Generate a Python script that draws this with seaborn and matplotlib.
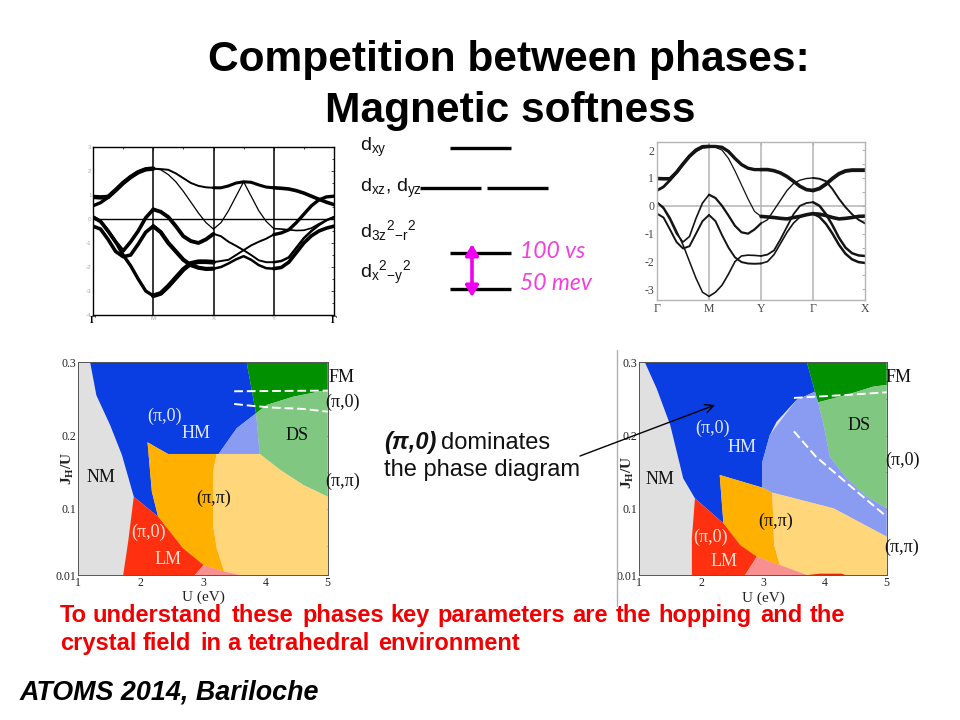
import matplotlib
matplotlib.use("Agg")
import matplotlib.pyplot as plt
import numpy as np
import pandas as pd
import seaborn as sns

sns.set_theme(style="white")
plt.rcParams["font.family"] = ["Liberation Sans", "DejaVu Sans"]
plt.rcParams["axes.unicode_minus"] = False
plt.rcParams["mathtext.default"] = "regular"
plt.rcParams["mathtext.fontset"] = "custom"
plt.rcParams["mathtext.rm"] = "Liberation Sans"
plt.rcParams["mathtext.it"] = "Liberation Sans:italic"
plt.rcParams["mathtext.bf"] = "Liberation Sans:bold"

# ---- band structure, left panel (path G-M-X-Y-G, 8 steps per segment)
B1_A = [.92,.9,.92,1.2,1.5,1.75,1.95,2.07,2.1, 2.08,2.05,1.9,1.7,1.5,1.38,1.32,1.3, 1.3,1.38,1.5,1.55,1.53,1.42,1.33,1.3, 1.28,1.25,1.18,1.08,.95,.82,.7,.6]
B2_A = [.55,.68,.9,1.2,1.5,1.75,1.95,2.07,2.1, 2.05,1.85,1.55,1.15,.7,.25,-.15,-.42, -.15,.35,.95,1.55,.95,.35,-.1,-.4, -.42,-.45,-.48,-.47,-.38,-.2,-.05,.08]
B3_A = [.08,-.1,-.5,-.95,-1.33,-.95,-.5,.05,.4, .3,.08,-.3,-.72,-.92,-1.0,-.85,-.62, -.72,-.95,-1.12,-1.3,-1.1,-.95,-.82,-.65, -.58,-.45,-.15,.2,.55,.8,.92,.95]
B4_A = [-.3,-.42,-.85,-1.35,-1.57,-1.5,-1.05,-.55,-.3, -.55,-1.0,-1.35,-1.7,-1.92,-2.03,-2.08,-2.07, -2.0,-1.85,-1.68,-1.55,-1.7,-1.92,-2.05,-2.07, -2.02,-1.8,-1.4,-1.0,-.7,-.5,-.38,-.3]
B5_A = [.08,-.1,-.5,-.95,-1.5,-1.95,-2.5,-3.0,-3.2, -3.1,-2.8,-2.45,-2.1,-1.85,-1.78,-1.78,-1.8, -1.75,-1.7,-1.5,-1.3,-1.5,-1.72,-1.8,-1.8, -1.75,-1.6,-1.2,-.8,-.5,-.25,-.05,.08]
BANDS_A = [B1_A, B2_A, B3_A, B4_A, B5_A]
WIDTHS_A = [[3.2,1.4,2.2,2.6],[2.4,.9,.9,1.2],[2.6,2.8,1.4,2.4],[2.6,3.0,1.8,2.6],[2.4,3.4,1.4,1.8]]
TICKS_A = ["Γ", "M", "X", "Y", "Γ"]

# ---- band structure, right panel (path G-M-Y-G-X)
B1_B = [.98,.97,.97,1.2,1.5,1.78,2.0,2.12,2.13, 2.13,2.1,1.95,1.7,1.48,1.35,1.3,1.3, 1.3,1.26,1.18,1.05,.88,.7,.58,.55, .62,.78,.98,1.15,1.25,1.28,1.28,1.28]
B2_B = [.55,.68,.92,1.2,1.5,1.78,1.97,2.1,2.13, 2.1,2.0,1.7,1.25,.75,.25,-.2,-.38, -.4,-.42,-.45,-.47,-.42,-.38,-.32,-.28, -.3,-.35,-.42,-.47,-.45,-.42,-.38,-.37]
B3_B = [.13,-.1,-.5,-1.0,-1.3,-1.1,-.45,.1,.4, .28,.0,-.35,-.72,-.95,-1.0,-.85,-.63, -.5,-.15,.2,.55,.8,.92,.98,1.0, .97,.88,.6,.25,-.05,-.3,-.5,-.63]
B4_B = [-.28,-.42,-.85,-1.3,-1.53,-1.45,-1.0,-.55,-.33, -.55,-1.05,-1.5,-1.85,-2.02,-2.07,-2.08,-2.07, -2.0,-1.75,-1.35,-.95,-.62,-.4,-.3,-.28, -.4,-.65,-1.0,-1.4,-1.72,-1.92,-2.02,-2.05]
B5_B = [.13,-.05,-.42,-.9,-1.4,-2.0,-2.6,-3.1,-3.25, -3.1,-2.85,-2.45,-2.0,-1.8,-1.77,-1.78,-1.8, -1.75,-1.6,-1.2,-.75,-.3,.0,.1,.13, .0,-.3,-.7,-1.15,-1.5,-1.7,-1.78,-1.8]
BANDS_B = [B1_B, B2_B, B3_B, B4_B, B5_B]
WIDTHS_B = [[2.6,2.4,2.6,2.8],[2.0,.9,2.6,2.6],[1.2,1.6,1.0,1.4],[1.4,1.4,1.2,1.8],[1.1,1.2,1.3,1.8]]
TICKS_B = ["Γ", "M", "Y", "Γ", "X"]

# ---- phase diagrams: regions as (U, J/U) vertices
COLORS = dict(nm="#e0e0e0", hm="#0a3de2", fm="#009000", ds="#80c882", lb="#8a9cf2",
              or_="#ffb000", ye="#ffd67a", re="#ff3010", pk="#f89090", dr="#e02a08")
PHASE_LEFT = {
    "hm": [(1.19,.30),(3.70,.30),(3.85,.2305),(3.54,.21),(3.25,.175),(2.44,.175),(2.26,.1836),(2.11,.191),(2.18,.1236),(2.28,.0895),(1.89,.1168),(1.70,.1736),(1.51,.2145),(1.29,.255)],
    "fm": [(3.70,.30),(5,.30),(5,.2623),(4.45,.2532),(4.02,.2418),(3.85,.2305)],
    "ds": [(3.85,.2305),(4.02,.2418),(4.45,.2532),(5,.2623),(5,.1168),(4.61,.1327),(4.24,.1532),(3.91,.175)],
    "lb": [(3.25,.175),(3.54,.21),(3.85,.2305),(3.91,.175)],
    "or_": [(2.11,.191),(2.26,.1836),(2.44,.175),(3.22,.175),(3.16,.151),(3.16,.0782),(3.22,.0464),(3.34,.0145),(3.01,.0236),(2.68,.0464),(2.28,.0895),(2.18,.1236)],
    "ye": [(3.22,.175),(3.91,.175),(4.24,.1532),(4.61,.1327),(5,.1168),(5,.01),(3.59,.01),(3.34,.0145),(3.22,.0464),(3.16,.0782),(3.16,.151)],
    "re": [(1.89,.1168),(2.28,.0895),(2.68,.0464),(3.01,.0236),(2.87,.01),(1.72,.01),(1.80,.0555)],
    "pk": [(3.01,.0236),(3.34,.0145),(3.59,.01),(2.87,.01)],
}
PHASE_RIGHT = {
    "hm": [(1.09,.30),(3.71,.30),(3.84,.26),(3.54,.2486),(3.22,.2191),(3.11,.2009),(2.99,.1645),(2.99,.1291),(2.30,.1464),(2.36,.0805),(1.90,.1145),(1.71,.1418),(1.50,.2145),(1.28,.2645)],
    "fm": [(3.71,.30),(5,.30),(5,.2691),(4.78,.2668),(4.35,.2555),(3.89,.2455),(3.84,.26)],
    "ds": [(3.89,.2455),(4.35,.2555),(4.78,.2668),(5,.2691),(5,.1009),(4.68,.1168),(4.35,.1418),(4.08,.1714),(3.98,.2145)],
    "lb": [(3.54,.2486),(3.84,.26),(3.89,.2455),(3.98,.2145),(4.08,.1714),(4.35,.1418),(4.68,.1168),(5,.1009),(5,.0623),(4.14,.1009),(3.15,.1223),(2.99,.1291),(2.99,.1645),(3.11,.2009)],
    "or_": [(2.30,.1464),(2.99,.1291),(3.15,.1223),(3.18,.0509),(3.27,.0236),(2.90,.035),(2.63,.0509),(2.36,.0805)],
    "ye": [(3.15,.1223),(4.14,.1009),(5,.0623),(5,.01),(3.71,.01),(3.27,.0236),(3.18,.0509)],
    "re": [(1.90,.1145),(2.36,.0805),(2.63,.0509),(2.90,.035),(2.71,.01),(1.85,.01),(1.85,.06)],
    "pk": [(2.90,.035),(3.27,.0236),(3.71,.01),(2.71,.01)],
    "dr": [(3.73,.01),(3.92,.0118),(4.27,.0118),(4.33,.01)],
}
DASH_LEFT = [[(3.5,.2605),(5,.2614)], [(3.5,.2432),(3.8,.2405),(4.13,.2382),(4.61,.2364),(5,.2327)]]
DASH_RIGHT = [[(3.5,.2514),(4.35,.2555),(5,.2591)], [(3.5,.2059),(3.85,.1718),(4.45,.1286),(5,.0895)]]
J_TICKS = [.01, .1, .2, .3]
J_LABELS = ["0.01", "0.1", "0.2", "0.3"]
U_TICKS = [1, 2, 3, 4, 5]

# ---- text on the slide
TITLE_LINES = ["Competition between phases:", "Magnetic softness"]
RED_LINES = ["To understand these phases key parameters are the hopping and the",
             "crystal field in a tetrahedral environment"]
FOOTER = "ATOMS 2014, Bariloche"

fig = plt.figure(figsize=(9.6, 7.2), dpi=100, facecolor="white")
W, H = 960.0, 720.0

def axes_px(x0, y0, x1, y1, **kw):
    return fig.add_axes([x0/W, 1-y1/H, (x1-x0)/W, (y1-y0)/H], **kw)

def draw_bands(ax, bands, widths, color):
    xs = np.arange(33) / 8
    for b, ws in zip(bands, widths):
        for s, w in enumerate(ws):
            i0 = s * 8
            seg = pd.DataFrame({"k": xs[i0:i0+9], "E": b[i0:i0+9]})
            sns.lineplot(data=seg, x="k", y="E", ax=ax, color=color, lw=w,
                         estimator=None, sort=False, solid_capstyle="round", legend=False)
    ax.set_xlabel(""); ax.set_ylabel("")

# left band panel
a = axes_px(93, 147, 334, 315)
draw_bands(a, BANDS_A, WIDTHS_A, "black")
a.set_xlim(0, 4); a.set_ylim(-4, 3)
for v in (1, 2, 3):
    a.axvline(v, color="black", lw=1.1)
a.axhline(0, color="black", lw=1.0)
a.set_xticks(range(5)); a.set_xticklabels(TICKS_A)
a.set_yticks(range(-4, 4))
a.set_xticks(np.arange(0, 4.01, .5), minor=True)
a.set_yticks(np.arange(-4, 3.01, .5), minor=True)
a.tick_params(axis="both", which="both", direction="in", top=True, right=True, length=2, width=.5, color="black", pad=1)
a.tick_params(axis="both", which="minor", length=1.2)
a.tick_params(axis="both", which="major", labelsize=4.5, labelcolor="#a8a8a8")
for lab, txt in zip(a.get_xticklabels(), TICKS_A):
    if txt == "Γ":
        lab.set_color("black"); lab.set_fontsize(7); lab.set_fontweight("bold"); lab.set_family("Liberation Serif")
for sp in a.spines.values():
    sp.set_color("black"); sp.set_linewidth(1.0)

# right band panel
b = axes_px(657, 142, 865, 300)
draw_bands(b, BANDS_B, WIDTHS_B, "#141414")
b.set_xlim(0, 4); b.set_ylim(-3.38, 2.29)
for v in (1, 2, 3):
    b.axvline(v, color="#b4b4b4", lw=1.1, zorder=0.5)
b.axhline(0, color="#b4b4b4", lw=1.1, zorder=0.5)
b.set_xticks(range(5)); b.set_xticklabels(TICKS_B)
b.set_yticks(range(-3, 3))
b.set_yticks(np.arange(-3, 2.01, .5), minor=True)
b.tick_params(axis="both", which="both", direction="in", top=True, right=True, length=2, width=.6, color="#a8a8a8", pad=2)
b.tick_params(axis="both", which="major", labelsize=8.5, labelcolor="#444444")
for lab in b.get_xticklabels() + b.get_yticklabels():
    lab.set_family("Liberation Serif")
for sp in b.spines.values():
    sp.set_color("#b4b4b4"); sp.set_linewidth(1.0)

def draw_phase(ax, regions, dashes):
    ax.set_facecolor(COLORS["nm"])
    for key, poly in regions.items():
        pts = np.array(poly)
        ax.fill(pts[:, 0], pts[:, 1], color=COLORS[key], lw=0)
    for d in dashes:
        pts = np.array(d)
        sns.lineplot(x=pts[:, 0], y=pts[:, 1], ax=ax, color="white", lw=1.4, sort=False,
                     estimator=None, linestyle=(0, (4.5, 2)), legend=False)
    ax.set_xlim(1, 5); ax.set_ylim(.01, .3)
    ax.set_xticks(U_TICKS); ax.set_yticks(J_TICKS); ax.set_yticklabels(J_LABELS)
    ax.set_xticks(np.arange(1, 5.01, .5), minor=True)
    ax.set_yticks([.05, .15, .25], minor=True)
    ax.tick_params(axis="both", which="both", direction="in", top=True, right=True, length=2.5, width=.6, color="#444444", pad=1.5)
    ax.tick_params(axis="both", which="major", labelsize=8.5, labelcolor="#222222")
    for lab in ax.get_xticklabels() + ax.get_yticklabels():
        lab.set_family("Liberation Serif")
    for sp in ax.spines.values():
        sp.set_color("#555555"); sp.set_linewidth(.7)

draw_phase(axes_px(78.3, 362.3, 327.7, 575), PHASE_LEFT, DASH_LEFT)
draw_phase(axes_px(639.3, 362.3, 886.7, 575), PHASE_RIGHT, DASH_RIGHT)

# overlay in slide pixels for all slide text and annotations
ov = fig.add_axes([0, 0, 1, 1], zorder=10)
ov.set_xlim(0, W); ov.set_ylim(H, 0); ov.axis("off"); ov.patch.set_alpha(0)

def T(x, y, s, ha="center", va="center", **kw):
    ov.text(x, y, s, ha=ha, va=va, **kw)

T(509, 60, TITLE_LINES[0], fontsize=30.6, fontweight="bold", color="black")
T(510, 111, TITLE_LINES[1], fontsize=30.6, fontweight="bold", color="black")

# the slide's red text is letter-spaced, so each word is placed on its own
red_word_x = [[60, 93, 232, 302, 390, 437, 572, 616, 658, 760, 810],
              [60, 143, 200, 227, 248, 378]]
for line, xs, base in zip(RED_LINES, red_word_x, (622, 650)):
    for word, x in zip(line.split(), xs):
        T(x, base, word, ha="left", va="baseline", fontsize=17, fontweight="bold", color="#f00000")

T(20, 700, FOOTER, ha="left", va="baseline", fontsize=19.4, fontweight="bold", fontstyle="italic", color="black")

T(360, 147, r"d$_{xy}$", ha="left", fontsize=14, color="#111111")
T(360, 188, r"d$_{xz}$, d$_{yz}$", ha="left", fontsize=14, color="#111111")
T(360, 231, r"d$_{3z}$$^{2}$$_{-r}$$^{2}$", ha="left", fontsize=14, color="#111111")
T(360, 273, r"d$_{x}$$^{2}$$_{-y}$$^{2}$", ha="left", fontsize=14, color="#111111")

LEVELS = [(147.5, 450, 511), (187.5, 420, 481), (187.5, 487, 548), (253, 450, 511), (288.5, 450, 511)]
for y, x0, x1 in LEVELS:
    ov.plot([x0, x1], [y, y], color="black", lw=2.4, solid_capstyle="butt")
ov.annotate("", xy=(472, 244), xytext=(472, 297),
            arrowprops=dict(arrowstyle="<|-|>,head_width=0.32,head_length=0.55", color="#f000f0", lw=2.6, shrinkA=0, shrinkB=0))
T(520, 252, "100 vs", ha="left", fontsize=16.5, color="#f040e0", family="Lato", fontstyle="italic")
T(520, 284, "50 mev", ha="left", fontsize=16.5, color="#f040e0", family="Lato", fontstyle="italic")

T(384, 443, "(π,0)", ha="left", fontsize=17, fontweight="bold", fontstyle="italic", color="#111111")
T(441, 443, "dominates", ha="left", fontsize=17, color="#111111")
T(384, 470, "the phase diagram", ha="left", fontsize=17, color="#111111")

SERIF = "Liberation Serif"
def P(x, y, s, c="black", fs=13, **kw):
    T(x, y, s, color=c, fontsize=fs, family=[SERIF, "DejaVu Sans"], **kw)

PI0, PIPI = "(π,0)", "(π,π)"
for x, y, s, c in [(342, 377, "FM", "#111111"), (343, 402, PI0, "#111111"), (343, 481, PIPI, "#111111"),
                   (297, 436, "DS", "#111111"), (164, 416, PI0, "#dfe6ff"), (196, 433, "HM", "#dfe6ff"),
                   (101, 478, "NM", "#111111"), (214, 498, PIPI, "#111111"), (148, 532, PI0, "#ffe0d0"),
                   (168, 560, "LM", "#ffe0d0"),
                   (899, 378, "FM", "#111111"), (902, 460, PI0, "#111111"), (902, 547, PIPI, "#111111"),
                   (859, 425, "DS", "#111111"), (713, 428, PI0, "#dfe6ff"), (742, 447, "HM", "#dfe6ff"),
                   (660, 479, "NM", "#111111"), (776, 521, PIPI, "#111111"), (711, 537, PI0, "#ffe0d0"),
                   (724, 561, "LM", "#ffe0d0")]:
    P(x, y, s, c)
P(203, 597, "U (eV)", "#222222", 11)
P(763, 598, "U (eV)", "#222222", 11)
for x, y in [(68, 468), (628, 472)]:
    ov.text(x, y, r"J$_{H}$/U", rotation=90, ha="center", va="center", fontsize=11, fontweight="bold",
            family=SERIF, color="#222222")

# separator and arrow
ov.plot([617, 617], [350, 606], color="#b0b0b0", lw=1.0)
ov.annotate("", xy=(715, 405), xytext=(580, 456),
            arrowprops=dict(arrowstyle="->,head_width=0.25,head_length=0.5", color="black", lw=1.0, shrinkA=0, shrinkB=0))

fig.savefig("out.png", dpi=100, facecolor="white")
